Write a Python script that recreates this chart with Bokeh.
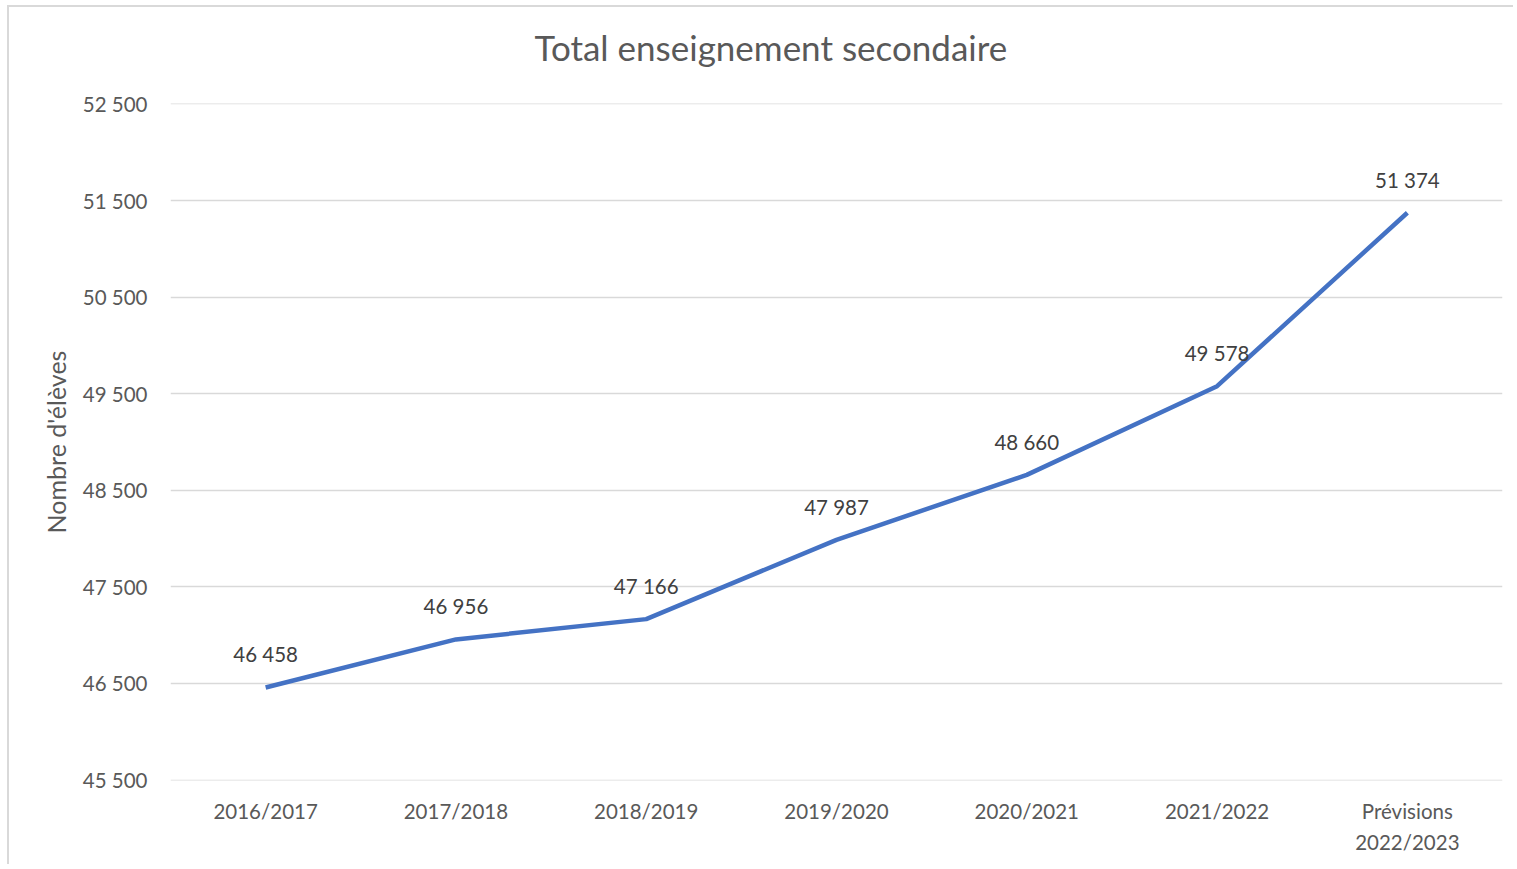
from bokeh.plotting import figure
from bokeh.models import ColumnDataSource, FixedTicker, LinearAxis, Title
from bokeh.core.properties import value
from bokeh.embed import file_html
from bokeh.resources import INLINE

categories = ["2016/2017", "2017/2018", "2018/2019", "2019/2020", "2020/2021", "2021/2022", "Prévisions 2022/2023"]
label_line1 = ["2016/2017", "2017/2018", "2018/2019", "2019/2020", "2020/2021", "2021/2022", "Prévisions"]
label_line2 = ["", "", "", "", "", "", "2022/2023"]
eleves = [46458, 46956, 47166, 47987, 48660, 49578, 51374]
y_ticks = [45500, 46500, 47500, 48500, 49500, 50500, 51500, 52500]
title_text = "Total enseignement secondaire"

def fmt(v):
    return f"{v:,}".replace(",", " ")

xs = list(range(len(categories)))
src = ColumnDataSource(dict(x=xs, y=eleves, lab=[fmt(v) for v in eleves]))

FONT = "Lato"
GREY = "#595959"

p = figure(x_range=(-0.5, len(categories) - 0.5), y_range=(45495, 52505), width=1506, height=859,
           output_backend="svg", toolbar_location=None, title=None,
           min_border_left=161, min_border_right=13, min_border_top=96, min_border_bottom=86)
p.styles = {"border-left": "2px solid #d9d9d9", "border-top": "2px solid #d9d9d9",
            "margin-left": "7px", "margin-top": "5px"}

# blank spacer between frame and title, then the title itself
p.add_layout(Title(text=" ", text_font=FONT, text_font_size="28px", standoff=0), "above")
p.add_layout(Title(text=title_text, align="left", offset=364, standoff=0,
                   text_font=FONT, text_font_size="35px", text_font_style="normal",
                   text_color=GREY), "above")

p.outline_line_color = None
p.xgrid.grid_line_color = None
p.ygrid.grid_line_color = "#d9d9d9"
p.ygrid.grid_line_width = 1.5
p.yaxis.ticker = FixedTicker(ticks=y_ticks)
p.yaxis.major_label_overrides = {t: fmt(t) for t in y_ticks}

x2 = LinearAxis()
p.add_layout(x2, "below")

for ax in (p.xaxis[0], p.yaxis[0], x2):
    ax.axis_line_color = None
    ax.major_tick_line_color = None
    ax.minor_tick_line_color = None
    ax.major_tick_out = 0
    ax.major_tick_in = 0
    ax.minor_tick_out = 0
    ax.minor_tick_in = 0
    ax.major_label_text_font = FONT
    ax.major_label_text_font_size = "20.5px"
    ax.major_label_text_color = GREY

p.xaxis[0].ticker = FixedTicker(ticks=xs)
p.xaxis[0].major_label_overrides = {i: t for i, t in zip(xs, label_line1)}
p.xaxis[0].major_label_standoff = 18
x2.ticker = FixedTicker(ticks=xs)
x2.major_label_overrides = {i: (t if t else " ") for i, t in zip(xs, label_line2)}
x2.major_label_standoff = 4

p.yaxis.major_label_standoff = 23
p.yaxis.axis_label = "Nombre d'élèves"
p.yaxis.axis_label_text_font = FONT
p.yaxis.axis_label_text_font_size = "25px"
p.yaxis.axis_label_text_font_style = "normal"
p.yaxis.axis_label_text_color = GREY
p.yaxis.axis_label_standoff = 9

p.line("x", "y", source=src, line_color="#4472C4", line_width=4.5)
p.text("x", "y", text="lab", source=src, y_offset=-33, text_align="center",
       text_baseline="middle", text_font=value(FONT), text_font_size="20.5px",
       text_color="#404040")

open("out.html", "w").write(file_html(p, INLINE))
